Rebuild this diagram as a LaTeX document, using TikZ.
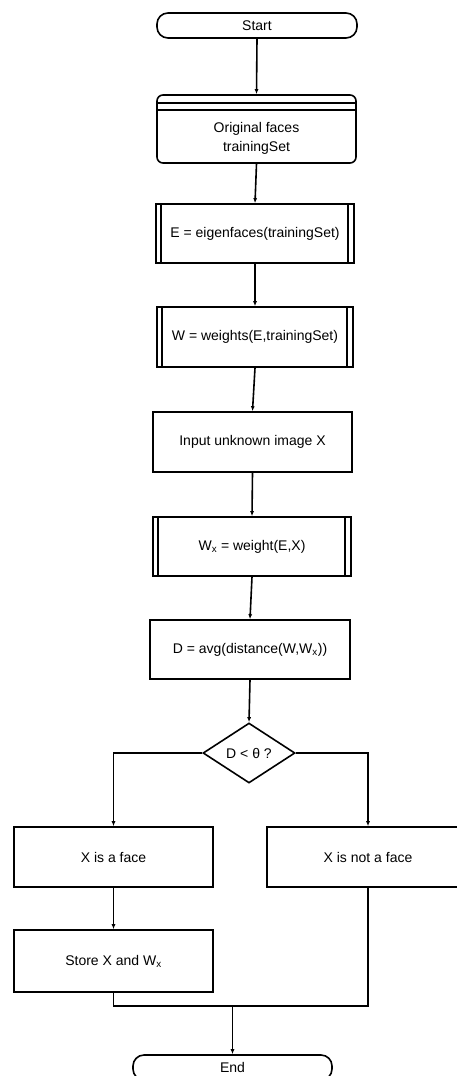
\documentclass[tikz,border=0pt]{standalone}
\usepackage{fontspec}
\setmainfont{Liberation Sans}
\usetikzlibrary{shapes.geometric,arrows.meta}
\tikzset{
  every node/.style={font=\fontsize{14}{19}\selectfont, inner sep=0pt},
  ln/.style={line width=1.6pt, black},
  arr/.style={ln, -{Latex[length=5pt,width=4pt]}},
  procbox/.style={ln, draw, rectangle, align=center},
  predef/.style={procbox, path picture={
      \draw[line width=1.2pt] ([xshift=5pt]path picture bounding box.north west) -- ([xshift=5pt]path picture bounding box.south west);
      \draw[line width=1.2pt] ([xshift=-6pt]path picture bounding box.north east) -- ([xshift=-6pt]path picture bounding box.south east);}},
  term/.style={ln, draw, rectangle, rounded corners=11pt, minimum width=200pt, minimum height=25pt},
  dbox/.style={ln, draw, rectangle, rounded corners=6pt, path picture={
      \draw[line width=1.2pt] ([yshift=-8pt]path picture bounding box.north west) -- ([yshift=-8pt]path picture bounding box.north east);
      \draw[line width=1.2pt] ([yshift=-15pt]path picture bounding box.north west) -- ([yshift=-15pt]path picture bounding box.north east);}},
  decision/.style={ln, draw, diamond, minimum width=92pt, minimum height=60pt, aspect=1.53}
}
\begin{document}
\begin{tikzpicture}[x=1pt,y=-1pt]
\useasboundingbox (0,0) rectangle (457,1076);
\node[term] (start) at (257,25.5) {Start};
\node[dbox, minimum width=199pt, minimum height=68pt] (db) at (256.5,129) {};
\node[align=center] (dbtext) at (256.5,138) {Original faces\\trainingSet};
\node[predef, minimum width=198pt, minimum height=59pt] (eig) at (255,233.5) {E = eigenfaces(trainingSet)};
\node[predef, minimum width=196pt, minimum height=60pt] (wts) at (255,337) {W = weights(E,trainingSet)};
\node[procbox, minimum width=199pt, minimum height=60pt] (inp) at (252.5,442) {Input unknown image X};
\node[predef, minimum width=198pt, minimum height=59pt] (wx) at (252,546.5) {W\textsubscript{x} = weight(E,X)};
\node[procbox, minimum width=200pt, minimum height=59pt] (dist) at (250,649.5) {D = avg(distance(W,W\textsubscript{x}))};
\node[decision] (dec) at (249,753) {D < θ ?};
\node[procbox, minimum width=199pt, minimum height=60pt] (face) at (113.5,857) {X is a face};
\node[procbox, minimum width=202pt, minimum height=60pt] (notface) at (368,857) {X is not a face};
\node[procbox, minimum width=199pt, minimum height=62pt] (store) at (113.5,961) {Store X and W\textsubscript{x}};
\node[term, minimum width=199pt] (end) at (232.5,1067.5) {End};
\coordinate (j) at (232.5,1006);
\draw[arr] (start.south) -- (db.north);
\draw[arr] (db.south) -- (eig.north);
\draw[arr] (eig.south) -- (wts.north);
\draw[arr] (wts.south) -- (inp.north);
\draw[arr] (inp.south) -- (wx.north);
\draw[arr] (wx.south) -- (dist.north);
\draw[arr] (dist.south) -- (dec.north);
\draw[arr] (dec.west) -| (face.north);
\draw[arr] (dec.east) -| (notface.north);
\draw[arr] (face.south) -- (store.north);
\draw[ln] (store.south) |- (j);
\draw[ln] (notface.south) |- (j);
\draw[arr] (j) -- (end.north);
\end{tikzpicture}
\end{document}
